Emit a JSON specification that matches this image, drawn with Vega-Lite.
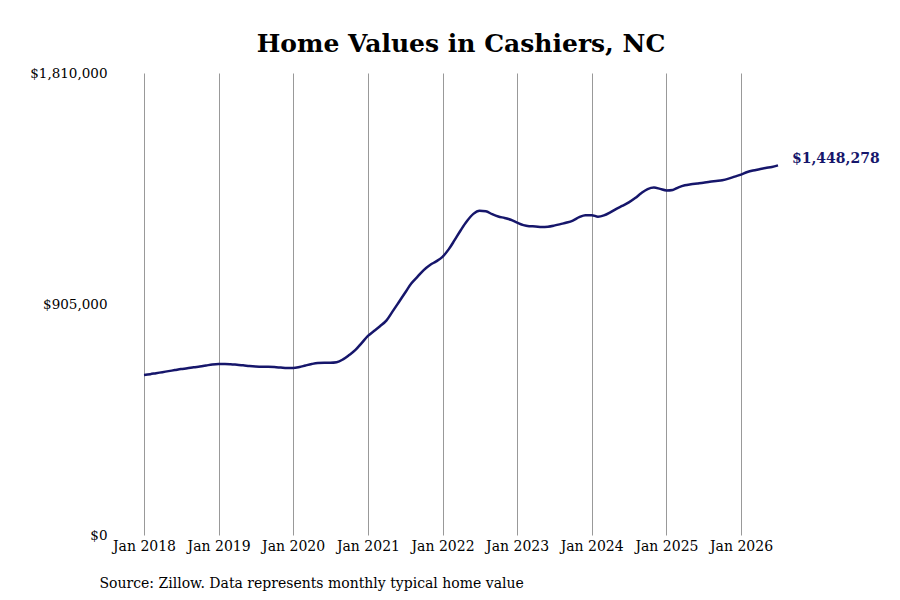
{
  "$schema": "https://vega.github.io/schema/vega-lite/v6.json",
  "width": 634,
  "height": 462,
  "autosize": "none",
  "padding": {"left": 144, "top": 73, "right": 122, "bottom": 65},
  "background": "white",
  "title": {
    "text": "Home Values in Cashiers, NC",
    "font": "DejaVu Serif",
    "fontSize": 25,
    "fontWeight": "bold",
    "color": "black",
    "anchor": "middle",
    "offset": 9
  },
  "data": {
    "values": [
      {"date": "2018/01/01", "value": 627000},
      {"date": "2018/02/01", "value": 630000},
      {"date": "2018/03/01", "value": 634000},
      {"date": "2018/04/01", "value": 638000},
      {"date": "2018/05/01", "value": 642000},
      {"date": "2018/06/01", "value": 646000},
      {"date": "2018/07/01", "value": 650000},
      {"date": "2018/08/01", "value": 653000},
      {"date": "2018/09/01", "value": 657000},
      {"date": "2018/10/01", "value": 660000},
      {"date": "2018/11/01", "value": 664000},
      {"date": "2018/12/01", "value": 668000},
      {"date": "2019/01/01", "value": 670000},
      {"date": "2019/02/01", "value": 670000},
      {"date": "2019/03/01", "value": 669000},
      {"date": "2019/04/01", "value": 667000},
      {"date": "2019/05/01", "value": 665000},
      {"date": "2019/06/01", "value": 662000},
      {"date": "2019/07/01", "value": 660000},
      {"date": "2019/08/01", "value": 659000},
      {"date": "2019/09/01", "value": 659000},
      {"date": "2019/10/01", "value": 658000},
      {"date": "2019/11/01", "value": 656000},
      {"date": "2019/12/01", "value": 654000},
      {"date": "2020/01/01", "value": 654000},
      {"date": "2020/02/01", "value": 658000},
      {"date": "2020/03/01", "value": 664000},
      {"date": "2020/04/01", "value": 670000},
      {"date": "2020/05/01", "value": 674000},
      {"date": "2020/06/01", "value": 675000},
      {"date": "2020/07/01", "value": 675000},
      {"date": "2020/08/01", "value": 677000},
      {"date": "2020/09/01", "value": 688000},
      {"date": "2020/10/01", "value": 705000},
      {"date": "2020/11/01", "value": 725000},
      {"date": "2020/12/01", "value": 752000},
      {"date": "2021/01/01", "value": 780000},
      {"date": "2021/02/01", "value": 800000},
      {"date": "2021/03/01", "value": 818000},
      {"date": "2021/04/01", "value": 840000},
      {"date": "2021/05/01", "value": 875000},
      {"date": "2021/06/01", "value": 912000},
      {"date": "2021/07/01", "value": 948000},
      {"date": "2021/08/01", "value": 985000},
      {"date": "2021/09/01", "value": 1012000},
      {"date": "2021/10/01", "value": 1038000},
      {"date": "2021/11/01", "value": 1058000},
      {"date": "2021/12/01", "value": 1072000},
      {"date": "2022/01/01", "value": 1090000},
      {"date": "2022/02/01", "value": 1120000},
      {"date": "2022/03/01", "value": 1155000},
      {"date": "2022/04/01", "value": 1195000},
      {"date": "2022/05/01", "value": 1230000},
      {"date": "2022/06/01", "value": 1258000},
      {"date": "2022/07/01", "value": 1270000},
      {"date": "2022/08/01", "value": 1268000},
      {"date": "2022/09/01", "value": 1257000},
      {"date": "2022/10/01", "value": 1248000},
      {"date": "2022/11/01", "value": 1242000},
      {"date": "2022/12/01", "value": 1235000},
      {"date": "2023/01/01", "value": 1224000},
      {"date": "2023/02/01", "value": 1214000},
      {"date": "2023/03/01", "value": 1210000},
      {"date": "2023/04/01", "value": 1209000},
      {"date": "2023/05/01", "value": 1207000},
      {"date": "2023/06/01", "value": 1208000},
      {"date": "2023/07/01", "value": 1212000},
      {"date": "2023/08/01", "value": 1218000},
      {"date": "2023/09/01", "value": 1224000},
      {"date": "2023/10/01", "value": 1232000},
      {"date": "2023/11/01", "value": 1245000},
      {"date": "2023/12/01", "value": 1253000},
      {"date": "2024/01/01", "value": 1253000},
      {"date": "2024/02/01", "value": 1247000},
      {"date": "2024/03/01", "value": 1252000},
      {"date": "2024/04/01", "value": 1264000},
      {"date": "2024/05/01", "value": 1278000},
      {"date": "2024/06/01", "value": 1290000},
      {"date": "2024/07/01", "value": 1303000},
      {"date": "2024/08/01", "value": 1320000},
      {"date": "2024/09/01", "value": 1340000},
      {"date": "2024/10/01", "value": 1355000},
      {"date": "2024/11/01", "value": 1361000},
      {"date": "2024/12/01", "value": 1356000},
      {"date": "2025/01/01", "value": 1350000},
      {"date": "2025/02/01", "value": 1352000},
      {"date": "2025/03/01", "value": 1362000},
      {"date": "2025/04/01", "value": 1370000},
      {"date": "2025/05/01", "value": 1374000},
      {"date": "2025/06/01", "value": 1377000},
      {"date": "2025/07/01", "value": 1380000},
      {"date": "2025/08/01", "value": 1384000},
      {"date": "2025/09/01", "value": 1387000},
      {"date": "2025/10/01", "value": 1390000},
      {"date": "2025/11/01", "value": 1396000},
      {"date": "2025/12/01", "value": 1404000},
      {"date": "2026/01/01", "value": 1412000},
      {"date": "2026/02/01", "value": 1422000},
      {"date": "2026/03/01", "value": 1428000},
      {"date": "2026/04/01", "value": 1433000},
      {"date": "2026/05/01", "value": 1438000},
      {"date": "2026/06/01", "value": 1442000},
      {"date": "2026/07/01", "value": 1448278}
    ]
  },
  "encoding": {
    "x": {
      "field": "date",
      "type": "temporal",
      "scale": {"domain": ["2018/01/01", "2026/07/01"]},
      "axis": {
        "values": ["2018/01/01", "2019/01/01", "2020/01/01", "2021/01/01", "2022/01/01", "2023/01/01", "2024/01/01", "2025/01/01", "2026/01/01"],
        "format": "%b %Y",
        "grid": true,
        "gridColor": "#999999",
        "gridWidth": 1,
        "gridOpacity": 1,
        "ticks": false,
        "domain": false,
        "labelAlign": "center",
        "labelFlush": false,
        "labelOverlap": false,
        "labelPadding": 4,
        "labelFont": "DejaVu Serif",
        "labelFontSize": 14,
        "labelColor": "black",
        "title": "Source: Zillow. Data represents monthly typical home value",
        "titleFont": "DejaVu Serif",
        "titleFontSize": 14,
        "titleFontWeight": "normal",
        "titleColor": "black",
        "titleAnchor": "start",
        "titleAlign": "left",
        "titleBaseline": "alphabetic",
        "titleX": -45,
        "titleY": 52
      }
    },
    "y": {
      "field": "value",
      "type": "quantitative",
      "scale": {"domain": [0, 1810000], "nice": false, "zero": true},
      "axis": {
        "values": [0, 905000, 1810000],
        "format": "$,.0f",
        "grid": false,
        "ticks": false,
        "domain": false,
        "labelPadding": 37,
        "labelFont": "DejaVu Serif",
        "labelFontSize": 13.5,
        "labelColor": "black",
        "title": null
      }
    }
  },
  "layer": [
    {
      "mark": {"type": "line", "color": "#16166b", "strokeWidth": 2.5, "interpolate": "monotone"}
    },
    {
      "transform": [{"filter": "datum.value > 1448000"}],
      "mark": {"type": "text", "align": "left", "baseline": "middle", "dx": 14, "dy": -6, "font": "DejaVu Serif", "fontSize": 14, "fontWeight": "bold", "color": "#16166b"},
      "encoding": {
        "text": {"field": "value", "type": "quantitative", "format": "$,.0f"}
      }
    }
  ],
  "config": {
    "view": {"stroke": null}
  }
}
